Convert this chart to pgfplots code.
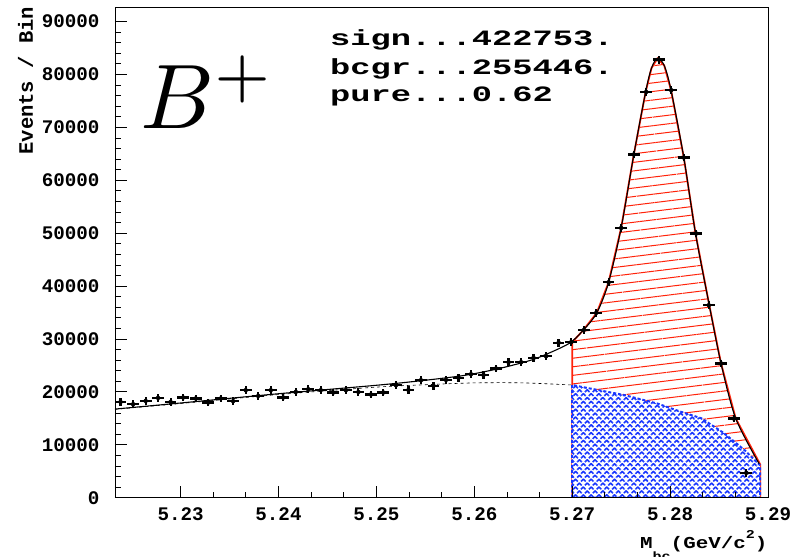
\documentclass[border=0pt]{standalone}
\usepackage{graphicx}
\usepackage{fontspec}
\newfontfamily\cour{Liberation Mono}
\usepackage{pgfplots}
\pgfplotsset{compat=1.18}
\usetikzlibrary{patterns.meta}
\definecolor{hred}{RGB}{255,35,10}
\definecolor{hblue}{RGB}{25,55,255}

\begin{document}
\begin{tikzpicture}
\path[use as bounding box] (-115bp,-59.3bp) rectangle (686bp,497.7bp);
\begin{axis}[
 at={(0,0)}, anchor=south west,
 scale only axis, width=653bp, height=490.7bp,
 xmin=5.2233, xmax=5.29, ymin=0, ymax=92750,
 xtick={5.23,5.24,5.25,5.26,5.27,5.28,5.29},
 xticklabels={5.23,5.24,5.25,5.26,5.27,5.28,5.29},
 ytick={0,10000,20000,30000,40000,50000,60000,70000,80000,90000},
 yticklabels={0,10000,20000,30000,40000,50000,60000,70000,80000,90000},
 minor x tick num=2, minor y tick num=4,
 tick align=inside, tick pos=left,
 major tick length=12bp, minor tick length=6bp,
 tick style={black, line width=0.8bp},
 axis line style={line width=0.8bp},
 /pgf/number format/assume math mode=true,
 tick label style={font=\cour\bfseries\fontsize{19.2bp}{19.2bp}\selectfont},
 xticklabel style={yshift=-6bp},
 yticklabel style={xshift=-12bp},
 axis on top,
]
% signal region (total fit) hatched red
\addplot[draw=hred, line width=1.8bp, pattern={Lines[angle=7,distance=8.5bp,line width=1bp]}, pattern color=hred]
 coordinates {(5.2700,0) (5.2700,29400) (5.2711,31600) (5.2725,34900) (5.2737,40600) (5.2750,51000)
 (5.2763,64900) (5.2775,76700) (5.2781,81200) (5.2787,83000) (5.2794,81700) (5.2801,77000)
 (5.2814,64300) (5.2826,49900) (5.2840,36400) (5.2852,25400) (5.2867,15000) (5.2892,6300) (5.2892,0)} -- cycle;
% background region: white then blue cross hatch
\addplot[draw=none, fill=white]
 coordinates {(5.2700,0) (5.2700,21300) (5.2725,20400) (5.2753,19400) (5.2787,17800) (5.2810,16300)
 (5.2832,15000) (5.2855,12200) (5.2876,9000) (5.2892,6100) (5.2892,0)} -- cycle;
\addplot[draw=hblue, line width=2bp, densely dashed, pattern={Hatch[angle=45,distance=5.5bp,line width=1.6bp]}, pattern color=hblue]
 coordinates {(5.2700,0) (5.2700,21300) (5.2725,20400) (5.2753,19400) (5.2787,17800) (5.2810,16300)
 (5.2832,15000) (5.2855,12200) (5.2876,9000) (5.2892,6100) (5.2892,0)} -- cycle;
% background fit, dashed
\addplot[black, line width=0.6bp, dashed, smooth]
 coordinates {(5.2233,16700) (5.2300,17800) (5.2400,19500) (5.2500,20900) (5.2550,21350)
 (5.2600,21700) (5.2650,21700) (5.2700,21300)};
% total fit
\addplot[black, line width=1.1bp, smooth, tension=0.5]
 coordinates {(5.2233,16750) (5.2300,17900) (5.2400,19650) (5.2500,21250) (5.2550,22200)
 (5.2591,23150) (5.2625,24400) (5.2658,26000) (5.2679,27550) (5.2698,29300) (5.2711,31600)
 (5.2725,34900) (5.2737,40600) (5.2750,51000) (5.2763,64900) (5.2775,76700) (5.2781,81200)
 (5.2787,83000) (5.2794,81700) (5.2801,77000) (5.2814,64300) (5.2826,49900) (5.2840,36400)
 (5.2852,25400) (5.2867,15000) (5.2891,6400)};
% data points
\addplot[black, only marks, mark=none,
 error bars/.cd, x dir=both, x fixed=0.0006, y dir=both, y fixed=750, error mark=none,
 error bar style={line width=2.2bp, black}]
 coordinates {
 (5.22387,18106) (5.22515,17672) (5.22643,18295) (5.22770,18862) (5.22898,18106)
 (5.23026,18938) (5.23154,18749) (5.23282,17993) (5.23410,18749) (5.23537,18238)
 (5.23665,20318) (5.23793,19240) (5.23921,20318) (5.24049,18938) (5.24177,19996)
 (5.24304,20507) (5.24432,20318) (5.24560,19883) (5.24688,20318) (5.24816,19996)
 (5.24944,19505) (5.25071,19883) (5.25199,21263) (5.25327,20374) (5.25455,22208)
 (5.25583,21168) (5.25711,22264) (5.25838,22680) (5.25966,23342) (5.26094,23190)
 (5.26222,24419) (5.26350,25610) (5.26478,25610) (5.26605,26460) (5.26733,26744)
 (5.26861,29295) (5.26989,29390) (5.27117,31658) (5.27245,34927) (5.27372,40730)
 (5.27500,50992) (5.27628,64865) (5.27756,76696) (5.27884,82820) (5.28012,77018)
 (5.28139,64298) (5.28267,49934) (5.28395,36383) (5.28523,25364) (5.28651,14969)
 (5.28778,4687)};
\end{axis}
% text annotations
\node[anchor=base west, inner sep=0] at (25bp,368.7bp) {\scalebox{9.2}{$B^+$}};
\begin{scope}[every node/.style={anchor=base west, inner sep=0, font=\cour\bfseries\fontsize{21.9bp}{21.9bp}\selectfont}]
\node at (215bp,451.7bp) {\scalebox{1.54}[1]{sign...422753.}};
\node at (215bp,422.7bp) {\scalebox{1.54}[1]{bcgr...255446.}};
\node at (215bp,396bp) {\scalebox{1.54}[1]{pure...0.62}};
\end{scope}
\node[rotate=90, anchor=base east, inner sep=0, font=\cour\bfseries\fontsize{20.5bp}{20.5bp}\selectfont] at (-82bp,491bp) {Events / Bin};
\node[anchor=base west, inner sep=0, font=\cour\bfseries\fontsize{16.7bp}{16.7bp}\selectfont] at (525bp,-51bp)
 {\scalebox{1.25}[1]{M\raisebox{-1.3ex}{\fontsize{12bp}{12bp}\selectfont bc}(GeV/c\raisebox{1.1ex}{\fontsize{12bp}{12bp}\selectfont 2})}};
\end{tikzpicture}
\end{document}
